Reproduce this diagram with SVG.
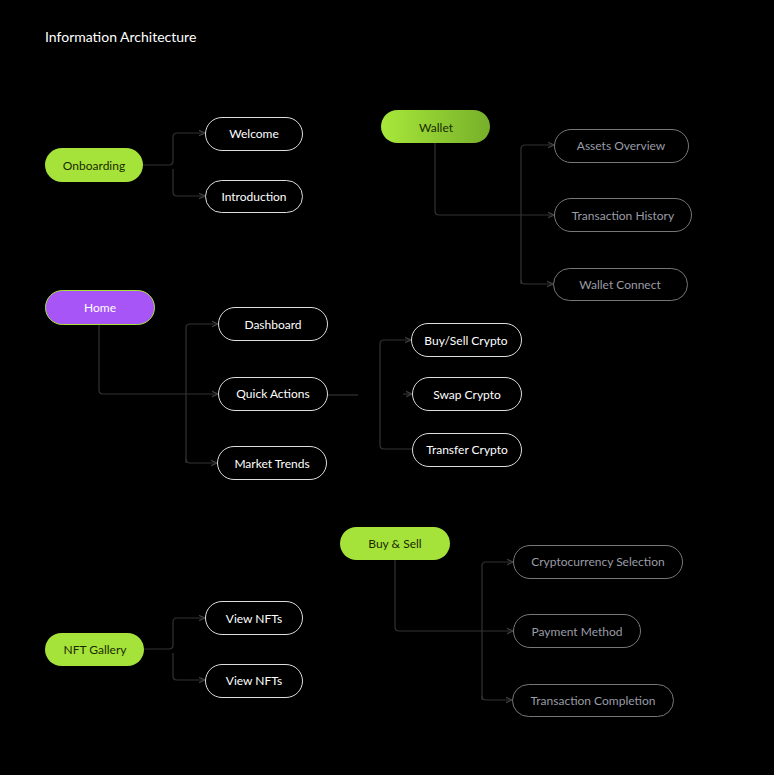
<svg xmlns="http://www.w3.org/2000/svg" width="774" height="775" viewBox="0 0 774 775">
<defs>
<linearGradient id="wg" x1="0" x2="1" y1="0" y2="0"><stop offset="0" stop-color="#a8e83a"/><stop offset="1" stop-color="#76b02a"/></linearGradient>
<marker id="a" viewBox="0 0 10 10" refX="9" refY="5" markerWidth="6" markerHeight="6" orient="auto"><path d="M0,1 L9,5 L0,9" fill="none" stroke="#444" stroke-width="1.5"/></marker>
<style>
text{font-family:"Lato","Liberation Sans",sans-serif;font-size:12px;text-anchor:middle;dominant-baseline:central}
.o rect{fill:#000;stroke:#ddd;stroke-width:1}
.o text{fill:#fff}
.g rect{fill:#000;stroke:#777;stroke-width:1}
.g text{fill:#9a9ca6}
.p rect{fill:#a6e33a}
.p text{fill:#1a2a00}
#conn path{fill:none;stroke:#333;stroke-width:1.2}
</style>
</defs>
<rect width="774" height="775" fill="#000"/>
<text x="45" y="36" style="text-anchor:start;font-size:14px;fill:#fff">Information Architecture</text>
<g id="conn">
<path d="M143,165 H169 Q173,165 173,161 V137 Q173,133 177,133 H205" marker-end="url(#a)"/>
<path d="M173,169 V192 Q173,196 177,196 H205" marker-end="url(#a)"/>
<path d="M435,143 V211 Q435,215 439,215 H554" marker-end="url(#a)"/>
<path d="M521,284 V149 Q521,145 525,145 H554" marker-end="url(#a)"/>
<path d="M521,280 Q521,284 525,284 H553" marker-end="url(#a)"/>
<path d="M99,324 V390 Q99,394 103,394 H218" marker-end="url(#a)"/>
<path d="M186,463 V328 Q186,324 190,324 H218" marker-end="url(#a)"/>
<path d="M186,459 Q186,463 190,463 H217" marker-end="url(#a)"/>
<path d="M327,395 H358"/>
<path d="M380,395 V344 Q380,340 384,340 H411" marker-end="url(#a)"/>
<path d="M380,395 V445 Q380,449 384,449 H412"/>
<path d="M403,394 H412" marker-end="url(#a)"/>
<path d="M395,560 V627 Q395,631 399,631 H513" marker-end="url(#a)"/>
<path d="M482,700 V566 Q482,562 486,562 H513" marker-end="url(#a)"/>
<path d="M482,696 Q482,700 486,700 H512" marker-end="url(#a)"/>
<path d="M144,649 H169 Q173,649 173,645 V622 Q173,618 177,618 H205" marker-end="url(#a)"/>
<path d="M173,653 V676 Q173,680 177,680 H205" marker-end="url(#a)"/>
</g>
<g id="onboarding" class="p"><rect x="45" y="148" width="98" height="34" rx="17"/><text x="94" y="165">Onboarding</text></g>
<g id="welcome" class="o"><rect x="205.5" y="117.5" width="97" height="33" rx="16.5"/><text x="254" y="133">Welcome</text></g>
<g id="introduction" class="o"><rect x="205.5" y="180.5" width="97" height="32" rx="16"/><text x="254" y="196">Introduction</text></g>
<g id="wallet"><rect x="381" y="110" width="109" height="33" rx="16.5" fill="url(#wg)"/><text x="436" y="127" fill="#1a2a00">Wallet</text></g>
<g id="assets" class="g"><rect x="554.5" y="129.5" width="134" height="33" rx="16.5"/><text x="621" y="145">Assets Overview</text></g>
<g id="txhistory" class="g"><rect x="554.5" y="198.5" width="137" height="33" rx="16.5"/><text x="623" y="215">Transaction History</text></g>
<g id="walletconnect" class="g"><rect x="553.5" y="268.5" width="134" height="32" rx="16"/><text x="620" y="284">Wallet Connect</text></g>
<g id="home"><rect x="45.5" y="290.5" width="109" height="34" rx="17" fill="#a855f7" stroke="#a6e33a"/><text x="100" y="307" fill="#fff">Home</text></g>
<g id="dashboard" class="o"><rect x="218.5" y="307.5" width="109" height="33" rx="16.5"/><text x="273" y="324">Dashboard</text></g>
<g id="quickactions" class="o"><rect x="218.5" y="377.5" width="109" height="33" rx="16.5"/><text x="273" y="393">Quick Actions</text></g>
<g id="markettrends" class="o"><rect x="217.5" y="446.5" width="109" height="33" rx="16.5"/><text x="272" y="463">Market Trends</text></g>
<g id="buysellcrypto" class="o"><rect x="411.5" y="323.5" width="110" height="33" rx="16.5"/><text x="466" y="340">Buy/Sell Crypto</text></g>
<g id="swapcrypto" class="o"><rect x="412.5" y="377.5" width="109" height="33" rx="16.5"/><text x="467" y="394">Swap Crypto</text></g>
<g id="transfercrypto" class="o"><rect x="412.5" y="433.5" width="109" height="33" rx="16.5"/><text x="467" y="449">Transfer Crypto</text></g>
<g id="buysell" class="p"><rect x="340" y="527" width="110" height="33" rx="16.5"/><text x="395" y="543">Buy &amp; Sell</text></g>
<g id="cryptoselection" class="g"><rect x="513.5" y="545.5" width="169" height="33" rx="16.5"/><text x="598" y="561">Cryptocurrency Selection</text></g>
<g id="paymentmethod" class="g"><rect x="513.5" y="614.5" width="127" height="33" rx="16.5"/><text x="577" y="631">Payment Method</text></g>
<g id="txcompletion" class="g"><rect x="512.5" y="684.5" width="161" height="32" rx="16"/><text x="593" y="700">Transaction Completion</text></g>
<g id="nftgallery" class="p"><rect x="45" y="633" width="99" height="33" rx="16.5"/><text x="95" y="649">NFT Gallery</text></g>
<g id="viewnfts1" class="o"><rect x="205.5" y="601.5" width="97" height="33" rx="16.5"/><text x="254" y="618">View NFTs</text></g>
<g id="viewnfts2" class="o"><rect x="205.5" y="664.5" width="97" height="33" rx="16.5"/><text x="254" y="680">View NFTs</text></g>
</svg>
